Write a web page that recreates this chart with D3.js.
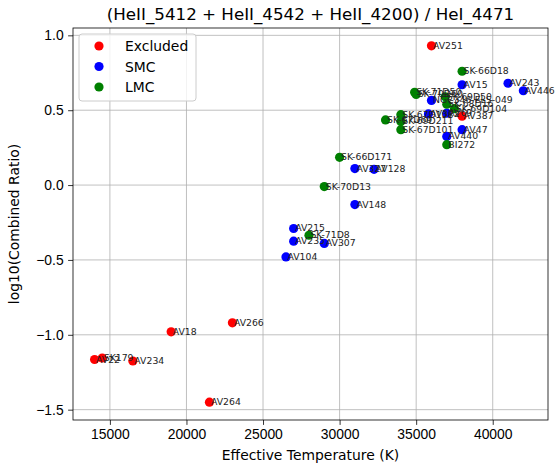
<!DOCTYPE html>
<html>
  <head>
    <meta charset="utf-8">
    <title>Combined ratio</title>
    <script src="https://d3js.org/d3.v7.min.js"></script>
    <style>
      body { margin: 0; background: white; }
      svg { font-family: "DejaVu Sans", sans-serif; }
      .grid line { stroke: #b0b0b0; stroke-width: 0.8; }
      .axis path, .axis line { stroke: black; stroke-width: 0.8; }
      .axis text { font-size: 13.9px; fill: black; }
      .lbl { font-size: 9.3px; fill: #222; }
    </style>
  </head>
  <body>
    <script>
      // Excluded stars
      var excludedNames = ['AV22', 'SK179', 'AV234', 'AV18', 'AV266', 'AV264', 'AV251', 'AV387'];
      var excludedTeff  = [14000, 14500, 16500, 19000, 23000, 21500, 36000, 38000];
      var excludedRatio = [-1.165, -1.155, -1.175, -0.98, -0.92, -1.45, 0.93, 0.46];

      // SMC stars
      var smcNames = ['AV15', 'AV243', 'AV446', 'NGC346-ELS-049', 'AV372', 'AV69', 'AV47', 'AV440',
                      'AV327', 'AV128', 'AV148', 'AV215', 'AV235', 'AV307', 'AV104'];
      var smcTeff  = [38000, 41000, 42000, 36000, 35800, 37000, 38000, 37000,
                      31000, 32250, 31000, 27000, 27000, 29000, 26500];
      var smcRatio = [0.67, 0.68, 0.63, 0.565, 0.475, 0.48, 0.37, 0.325,
                      0.11, 0.105, -0.13, -0.29, -0.375, -0.39, -0.48];

      // LMC stars
      var lmcNames = ['SK-66D18', 'SK-71D50', 'SK-70D60', 'SK-69D50', 'SK-68D16', 'SK-69D104',
                      'SK-67D69', 'SK-67D108', 'SK-69D211', 'SK-67D101', 'BI272', 'SK-66D171',
                      'SK-70D13', 'SK-71D8'];
      var lmcTeff  = [38000, 34900, 35000, 36900, 37000, 37500,
                      33000, 34000, 34000, 34000, 37000, 30000,
                      29000, 28000];
      var lmcRatio = [0.76, 0.62, 0.605, 0.59, 0.54, 0.51,
                      0.435, 0.47, 0.425, 0.37, 0.27, 0.185,
                      -0.01, -0.335];

      var xTicks = [15000, 20000, 25000, 30000, 35000, 40000];
      var yTicks = [-1.5, -1.0, -0.5, 0.0, 0.5, 1.0];

      var groups = [
        { label: 'Excluded', color: 'red',   names: excludedNames, teff: excludedTeff, ratio: excludedRatio },
        { label: 'SMC',      color: 'blue',  names: smcNames,      teff: smcTeff,      ratio: smcRatio },
        { label: 'LMC',      color: 'green', names: lmcNames,      teff: lmcTeff,      ratio: lmcRatio }
      ];

      var W = 555, H = 471;
      var pL = 73, pR = 548, pT = 28, pB = 420;

      var x = d3.scaleLinear().domain([12590, 43610]).range([pL, pR]);
      var y = d3.scaleLinear().domain([-1.569, 1.049]).range([pB, pT]);

      var svg = d3.select('body').append('svg').attr('width', W).attr('height', H);

      // grid
      var grid = svg.append('g').attr('class', 'grid');
      grid.selectAll('.gx').data(xTicks).enter().append('line')
        .attr('x1', function(d){ return x(d) }).attr('x2', function(d){ return x(d) })
        .attr('y1', pT).attr('y2', pB);
      grid.selectAll('.gy').data(yTicks).enter().append('line')
        .attr('y1', function(d){ return y(d) }).attr('y2', function(d){ return y(d) })
        .attr('x1', pL).attr('x2', pR);

      // points
      groups.forEach(function(g){
        var pts = g.names.map(function(n, i){ return { name: n, t: g.teff[i], r: g.ratio[i] } });
        svg.append('g').selectAll('circle').data(pts).enter().append('circle')
          .attr('cx', function(d){ return x(d.t) })
          .attr('cy', function(d){ return y(d.r) })
          .attr('r', 4.6)
          .attr('fill', g.color);
        g.pts = pts;
      });

      // labels
      groups.forEach(function(g){
        svg.append('g').selectAll('text').data(g.pts).enter().append('text')
          .attr('class', 'lbl')
          .attr('x', function(d){ return x(d.t) + 1.5 })
          .attr('y', function(d){ return y(d.r) + 3 })
          .text(function(d){ return d.name });
      });

      // axes
      var fmtY = function(d){ return d3.format('.1f')(d).replace('-', '\u2212') };
      svg.append('g').attr('class', 'axis')
        .attr('transform', 'translate(0,' + pB + ')')
        .call(d3.axisBottom(x).tickValues(xTicks).tickSize(4.9).tickPadding(4.5).tickFormat(d3.format('d')));
      svg.append('g').attr('class', 'axis')
        .attr('transform', 'translate(' + pL + ',0)')
        .call(d3.axisLeft(y).tickValues(yTicks).tickSize(4.9).tickPadding(4.5).tickFormat(fmtY));
      svg.selectAll('.axis .domain').remove();

      svg.append('rect').attr('x', pL).attr('y', pT)
        .attr('width', pR - pL).attr('height', pB - pT)
        .attr('fill', 'none').attr('stroke', 'black').attr('stroke-width', 0.8);

      // titles
      svg.append('text').attr('x', (pL + pR) / 2).attr('y', 20)
        .attr('text-anchor', 'middle').style('font-size', '16.7px')
        .text('(HeII_5412 + HeII_4542 + HeII_4200) / HeI_4471');
      svg.append('text').attr('x', (pL + pR) / 2).attr('y', 460)
        .attr('text-anchor', 'middle').style('font-size', '13.9px')
        .text('Effective Temperature (K)');
      svg.append('text').attr('transform', 'translate(19,' + ((pT + pB) / 2) + ') rotate(-90)')
        .attr('text-anchor', 'middle').style('font-size', '13.9px')
        .text('log10(Combined Ratio)');

      // legend
      var lg = svg.append('g').attr('transform', 'translate(79,34)');
      lg.append('rect').attr('width', 117).attr('height', 67).attr('rx', 3)
        .attr('fill', 'white').attr('fill-opacity', 0.8).attr('stroke', '#cccccc');
      groups.forEach(function(g, i){
        lg.append('circle').attr('cx', 20).attr('cy', 12 + i * 20.5).attr('r', 4.6).attr('fill', g.color);
        lg.append('text').attr('x', 46).attr('y', 17 + i * 20.5).style('font-size', '13.9px').text(g.label);
      });
    </script>
  </body>
</html>
